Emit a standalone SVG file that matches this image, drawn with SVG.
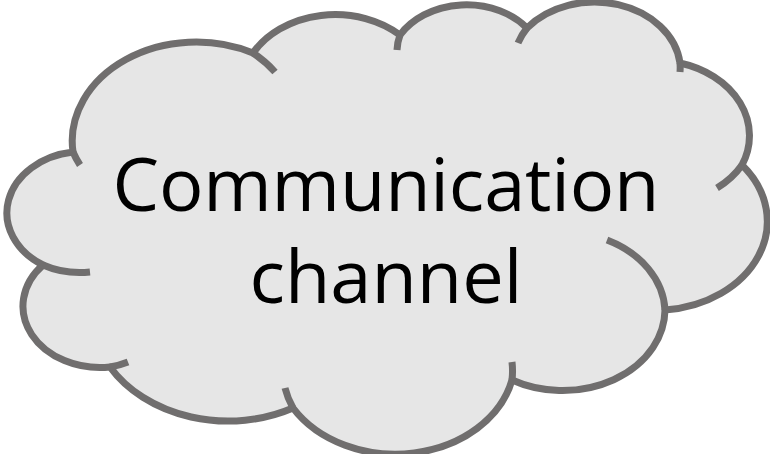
<svg xmlns="http://www.w3.org/2000/svg" width="770" height="454" viewBox="0 0 770 454">
  <style>
    .fill { fill: #e6e6e6; stroke: none; }
    .line { fill: none; stroke: #706e6e; stroke-width: 7; stroke-linejoin: round; stroke-linecap: butt; }
    .label { font-family: "Open Sans", "Noto Sans", "Liberation Sans", sans-serif; font-size: 74px; fill: #000000; text-anchor: middle; }
  </style>
  <rect width="770" height="454" fill="#ffffff"/>
  <g id="cloud">
    <path class="fill" d="M73,152 A124,99 0 0 1 253,53 A94.4,75.2 0 0 1 400,35 A77.3,61.5 0 0 1 527,28 A86,68.3 0 0 1 680,63 A94.4,75.3 0 0 1 742,165 A112,89 0 0 1 665,310 A102.5,81.4 0 0 1 512,380 A119.6,95.4 0 0 1 293,408 A136.7,109.1 0 0 1 110,367 A77.2,61.3 0 0 1 43,265 A77,61.5 0 0 1 73,152 Z"/>
    <path class="line" d="M73,152 A124,99 0 0 1 253,53 A94.4,75.2 0 0 1 400,35 A77.3,61.5 0 0 1 527,28 A86,68.3 0 0 1 680,63 A94.4,75.3 0 0 1 742,165 A112,89 0 0 1 665,310 A102.5,81.4 0 0 1 512,380 A119.6,95.4 0 0 1 293,408 A136.7,109.1 0 0 1 110,367 A77.2,61.3 0 0 1 43,265 A77,61.5 0 0 1 73,152 Z"/>
    <path class="line" d="M80,165 A124,99 0 0 1 73,152 M253,53 A124,99 0 0 1 275,72 M397,50 A77.3,61.5 0 0 1 400,35 M518,43 A86,68.3 0 0 1 527,28 M680,63 A86,68.3 0 0 1 680,72 M742,165 A94.4,75.3 0 0 1 717,188 M607,240 A102.5,81.4 0 0 1 665,310 M512,362 A119.6,95.4 0 0 1 512,380 M293,408 A119.6,95.4 0 0 1 285,388 M128,362 A77.2,61.3 0 0 1 110,367 M90,272 A77,61.5 0 0 1 43,265"/>
    <text class="label" x="386" y="211" textLength="547" lengthAdjust="spacing">Communication</text>
    <text class="label" x="386" y="303" textLength="273" lengthAdjust="spacing">channel</text>
  </g>
  <g id="connectors"/>
</svg>
